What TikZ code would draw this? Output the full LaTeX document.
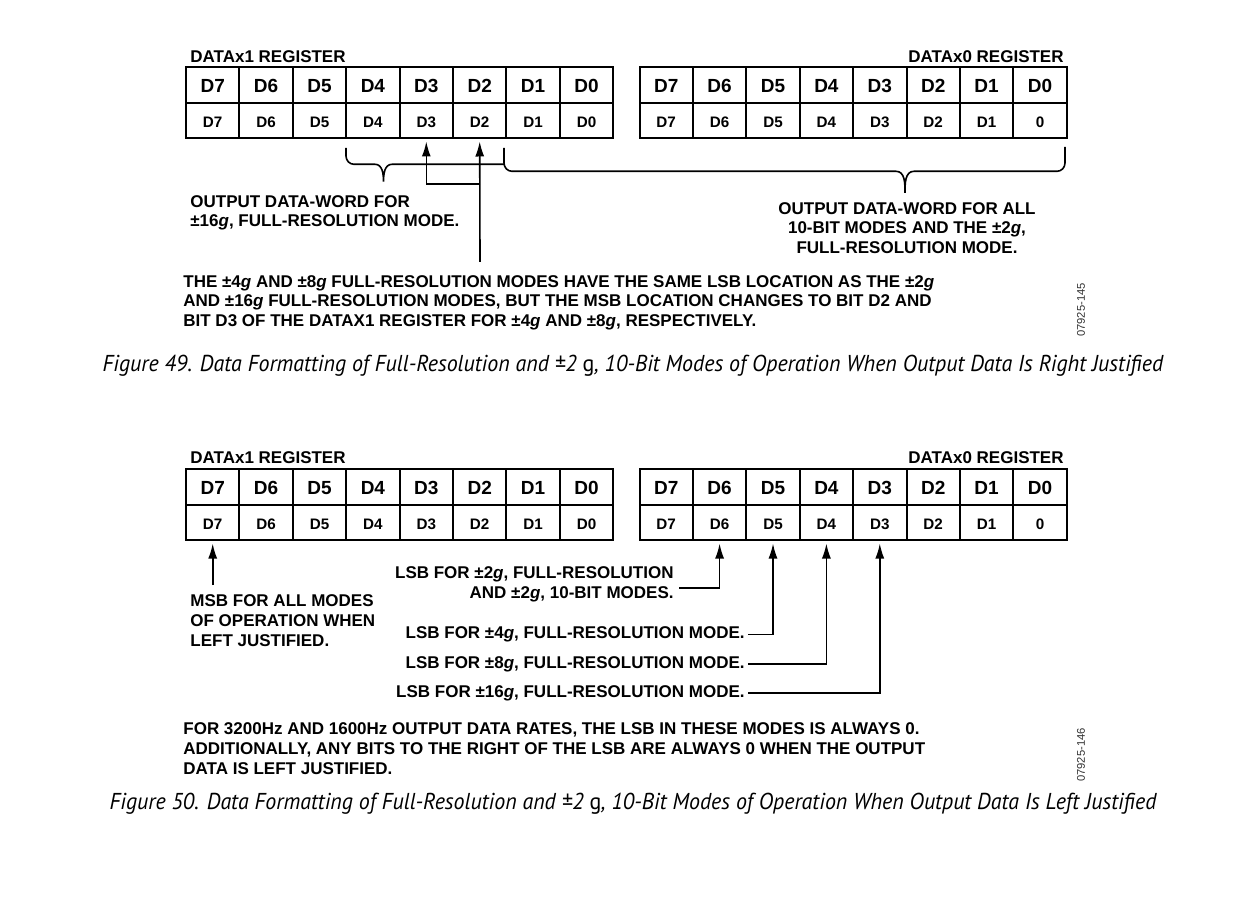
\documentclass[tikz,border=0pt]{standalone}
\usepackage{fontspec}
\setmainfont{Liberation Sans}
\newfontfamily\capfont[FakeStretch=0.955]{PT Sans}
\usetikzlibrary{arrows.meta}
\tikzset{
  >={Latex[length=7.5pt,width=4.5pt]},
  {bithead/.style} ={draw, rectangle, line width=1pt, inner sep=0,
                     minimum width=26.7pt, minimum height=17.75pt,
                     text height=0.72em, text depth=0pt,
                     font=\fontsize{9.5}{11}\selectfont\bfseries},
  {bitcell/.style} ={bithead, font=\fontsize{7.6}{9}\selectfont\bfseries},
  {note/.style} ={inner sep=0, font=\fontsize{8.5}{9.8}\selectfont\bfseries},
  {caption/.style} ={inner sep=0, font=\capfont\itshape\fontsize{11.5}{13}\selectfont},
  {figcode/.style} ={inner sep=0, rotate=90, black!80,
                     font=\fontsize{5.6}{6.5}\selectfont},
  {pointer/.style} ={draw, line width=0.8pt, ->, shorten >=1pt},
  {wordbrace/.style} ={draw, line width=0.8pt},
}
\begin{document}
\begin{tikzpicture}[x=0.5pt,y=-0.5pt]
\path[use as bounding box, fill=white] (0,0) rectangle (1248,898);

% registers
\foreach \reg/\x/\y/\zero in {a/186/67.5/D0, b/639.5/67.5/0,
                              c/186/469.5/D0, d/639.5/469.5/0}
  \foreach \i in {0,...,7} {
    \pgfmathtruncatemacro\bit{7-\i}
    \node[bithead] (\reg t\bit) at ({\x+53.4*\i+26.7},{\y+17.75}) {D\bit};
    \node[bitcell] (\reg b\bit) at ({\x+53.4*\i+26.7},{\y+53.25})
      {\ifnum\bit=0 \zero\else D\bit\fi};
  }
\node[note, anchor=base west] (x1a) at (190,62.7) {DATAx1 REGISTER};
\node[note, anchor=base east] (x0a) at (1064,62.7) {DATAx0 REGISTER};
\node[note, anchor=base west] (x1c) at (190,463.3) {DATAx1 REGISTER};
\node[note, anchor=base east] (x0c) at (1064,463.3) {DATAx0 REGISTER};

% right justified
\draw[wordbrace] (346,148) -- (346,156) to[out=-90,in=180] (354,164.3)
  -- (375,164.3) to[out=0,in=90] (383.5,181.5) to[out=90,in=180] (392,164.3)
  -- (504,164.3);
\draw[wordbrace] (504,148) -- (504,163) to[out=-90,in=180] (512,171.3)
  -- (896,171.3) to[out=0,in=90] (905,193) to[out=90,in=180] (914,171.3)
  -- (1057,171.3) to[out=0,in=-90] (1065,163) -- (1065,147);
\coordinate (tail1) at (480,262);
\draw[pointer] (tail1) -- (ab2.south);
\draw[pointer] (tail1 |- 0,184) -| (ab3.south);

\node[note, anchor=base west, align=left] (word16) at (190,226.7)
  {OUTPUT DATA-WORD FOR\\ ±16\textit{g}, FULL-RESOLUTION MODE.};
\node[note, anchor=base, align=center] (word10) at (907,253.3)
  {OUTPUT DATA-WORD FOR ALL\\ 10-BIT MODES AND THE ±2\textit{g},\\ FULL-RESOLUTION MODE.};
\node[note, anchor=base west, align=left] (note1) at (183,326.3)
  {THE ±4\textit{g} AND ±8\textit{g} FULL-RESOLUTION MODES HAVE THE SAME LSB LOCATION AS THE ±2\textit{g}\\
   AND ±16\textit{g} FULL-RESOLUTION MODES, BUT THE MSB LOCATION CHANGES TO BIT D2 AND\\
   BIT D3 OF THE DATAX1 REGISTER FOR ±4\textit{g} AND ±8\textit{g}, RESPECTIVELY.};
\node[figcode] (code1) at (1081,310) {07925-145};
\node[caption, anchor=base] (cap1) at (633,371.7)
  {Figure 49. Data Formatting of Full-Resolution and ±2 {\upshape g}, 10-Bit Modes of Operation When Output Data Is Right Justified};

% left justified
\coordinate (tail2) at (212.7,585);
\draw[pointer] (tail2) -- (cb7.south);
\node[note, anchor=base west, align=left] (msb) at (190,646)
  {MSB FOR ALL MODES\\ OF OPERATION WHEN\\ LEFT JUSTIFIED.};
\node[note, anchor=base east, align=right] (lsb2) at (674,598)
  {LSB FOR ±2\textit{g}, FULL-RESOLUTION\\ AND ±2\textit{g}, 10-BIT MODES.};
\node[note, anchor=base east] (lsb4) at (745,638.6) {LSB FOR ±4\textit{g}, FULL-RESOLUTION MODE.};
\node[note, anchor=base east] (lsb8) at (745,668) {LSB FOR ±8\textit{g}, FULL-RESOLUTION MODE.};
\node[note, anchor=base east] (lsb16) at (745,697) {LSB FOR ±16\textit{g}, FULL-RESOLUTION MODE.};
\draw[pointer, shorten <=2.5pt] ([yshift=-2pt]lsb2.east) -| (db6.south);
\draw[pointer, shorten <=1.5pt] (lsb4.east) -| (db5.south);
\draw[pointer, shorten <=1.5pt] (lsb8.east) -| (db4.south);
\draw[pointer, shorten <=1.5pt] (lsb16.east) -| (db3.south);
\node[note, anchor=base west, align=left] (note2) at (183,774)
  {FOR 3200Hz AND 1600Hz OUTPUT DATA RATES, THE LSB IN THESE MODES IS ALWAYS 0.\\
   ADDITIONALLY, ANY BITS TO THE RIGHT OF THE LSB ARE ALWAYS 0 WHEN THE OUTPUT\\
   DATA IS LEFT JUSTIFIED.};
\node[figcode] (code2) at (1081,755) {07925-146};
\node[caption, anchor=base] (cap2) at (633,809.3)
  {Figure 50. Data Formatting of Full-Resolution and ±2 {\upshape g}, 10-Bit Modes of Operation When Output Data Is Left Justified};
\end{tikzpicture}
\end{document}
